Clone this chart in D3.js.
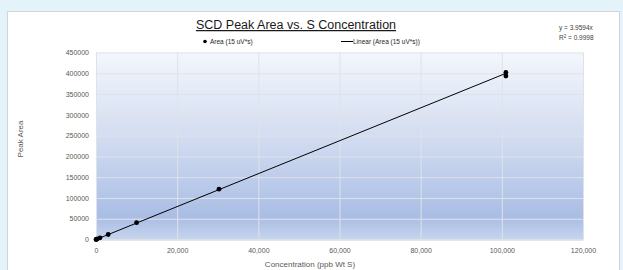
<!DOCTYPE html>
<html>
<head>
<meta charset="utf-8">
<script src="https://cdn.jsdelivr.net/npm/d3@7"></script>
<style>
  html, body { margin: 0; padding: 0; background: #e4f2fa; }
  svg { display: block; font-family: "Liberation Sans", "DejaVu Sans", sans-serif; }
</style>
</head>
<body>
<svg id="chart" width="623" height="270"></svg>
<script>
// 数据
var concentration = [0, 100, 300, 1000, 3000, 10000, 30300, 101000, 101000];
var peakArea = [0, 400, 1200, 4000, 12000, 40500, 121000, 402000, 393500];
var slope = 3.9594;
var xTicks = [0, 20000, 40000, 60000, 80000, 100000, 120000];
var yTicks = [0, 50000, 100000, 150000, 200000, 250000, 300000, 350000, 400000, 450000];

var svg = d3.select("#chart");
var plot = {left: 96, right: 583, top: 52.5, bottom: 239.5};

// 白色图表区域
svg.append("rect")
    .attr("x", 7.5).attr("y", 11.5)
    .attr("width", 612).attr("height", 270)
    .attr("fill", "#ffffff")
    .attr("stroke", "#d4d4d4");

var x = d3.scaleLinear().domain([0, 120000]).range([plot.left, plot.right]);
var y = d3.scaleLinear().domain([0, 450000]).range([plot.bottom, plot.top]);

// 渐变背景
var grad = svg.append("defs").append("linearGradient")
    .attr("id", "bg").attr("x1", 0).attr("y1", 0).attr("x2", 0).attr("y2", 1);
grad.append("stop").attr("offset", "0%").attr("stop-color", "#f3f6fc");
grad.append("stop").attr("offset", "45%").attr("stop-color", "#d3ddf1");
grad.append("stop").attr("offset", "88%").attr("stop-color", "#a9bde4");
grad.append("stop").attr("offset", "100%").attr("stop-color", "#c6d4ee");

svg.append("rect")
    .attr("x", plot.left).attr("y", plot.top)
    .attr("width", plot.right - plot.left).attr("height", plot.bottom - plot.top)
    .attr("fill", "url(#bg)");

// 网格线
svg.append("g")
    .attr("transform", "translate(0," + plot.bottom + ")")
    .call(d3.axisBottom(x).tickValues(xTicks).tickSize(-(plot.bottom - plot.top)).tickFormat(""))
    .call(g => g.select(".domain").remove())
    .selectAll("line").attr("stroke", "#dfe2e8").attr("stroke-width", 1);

svg.append("g")
    .attr("transform", "translate(" + plot.left + ",0)")
    .call(d3.axisLeft(y).tickValues(yTicks).tickSize(-(plot.right - plot.left)).tickFormat(""))
    .call(g => g.select(".domain").remove())
    .selectAll("line").attr("stroke", "#dfe2e8").attr("stroke-width", 1);

// 坐标轴文字
var xAxis = svg.append("g")
    .attr("transform", "translate(0," + plot.bottom + ")")
    .call(d3.axisBottom(x).tickValues(xTicks).tickSize(0).tickPadding(9).tickFormat(d3.format(",")));
xAxis.select(".domain").attr("stroke", "#d9d9d9");
xAxis.selectAll("text").attr("font-size", 7).attr("fill", "#595959")
    .attr("font-family", "Liberation Sans, sans-serif");

var yAxis = svg.append("g")
    .attr("transform", "translate(" + plot.left + ",0)")
    .call(d3.axisLeft(y).tickValues(yTicks).tickSize(0).tickPadding(7).tickFormat(d3.format("d")));
yAxis.select(".domain").remove();
yAxis.selectAll("text").attr("font-size", 7).attr("fill", "#595959")
    .attr("font-family", "Liberation Sans, sans-serif");

// 趋势线
var xMax = d3.max(concentration);
svg.append("line")
    .attr("x1", x(0)).attr("y1", y(0))
    .attr("x2", x(xMax)).attr("y2", y(slope * xMax))
    .attr("stroke", "#000").attr("stroke-width", 1);

// 数据点
svg.selectAll(".pt")
    .data(concentration)
    .enter()
    .append("circle")
    .attr("class", "pt")
    .attr("cx", function(d){ return x(d); })
    .attr("cy", function(d, i){ return y(peakArea[i]); })
    .attr("r", 2.4)
    .attr("fill", "#000");

// 标题
svg.append("text")
    .attr("x", 296).attr("y", 29)
    .attr("text-anchor", "middle")
    .attr("font-size", 12.5)
    .attr("fill", "#1a1a1a")
    .attr("text-decoration", "underline")
    .text("SCD Peak Area vs. S Concentration");

// 图例
svg.append("circle").attr("cx", 205).attr("cy", 41.5).attr("r", 1.8).attr("fill", "#000");
svg.append("text").attr("x", 210).attr("y", 44).attr("font-size", 6.5).attr("fill", "#262626")
    .text("Area (15 uV*s)");
svg.append("line").attr("x1", 341).attr("x2", 353).attr("y1", 41.5).attr("y2", 41.5)
    .attr("stroke", "#000").attr("stroke-width", 1);
svg.append("text").attr("x", 353).attr("y", 44).attr("font-size", 6.5).attr("fill", "#262626")
    .text("Linear (Area (15 uV*s))");

// 公式
svg.append("text").attr("x", 559).attr("y", 30).attr("font-size", 6.5).attr("fill", "#404040")
    .text("y = 3.9594x");
svg.append("text").attr("x", 559).attr("y", 40).attr("font-size", 6.5).attr("fill", "#404040")
    .html("R<tspan dy='-2.5' font-size='4.5'>2</tspan><tspan dy='2.5'> = 0.9998</tspan>");

// 轴标题
svg.append("text")
    .attr("transform", "translate(23,139) rotate(-90)")
    .attr("text-anchor", "middle")
    .attr("font-size", 8)
    .attr("fill", "#595959")
    .text("Peak Area");

svg.append("text")
    .attr("x", 310).attr("y", 267)
    .attr("text-anchor", "middle")
    .attr("font-size", 8)
    .attr("fill", "#595959")
    .text("Concentration (ppb Wt S)");
</script>
</body>
</html>
